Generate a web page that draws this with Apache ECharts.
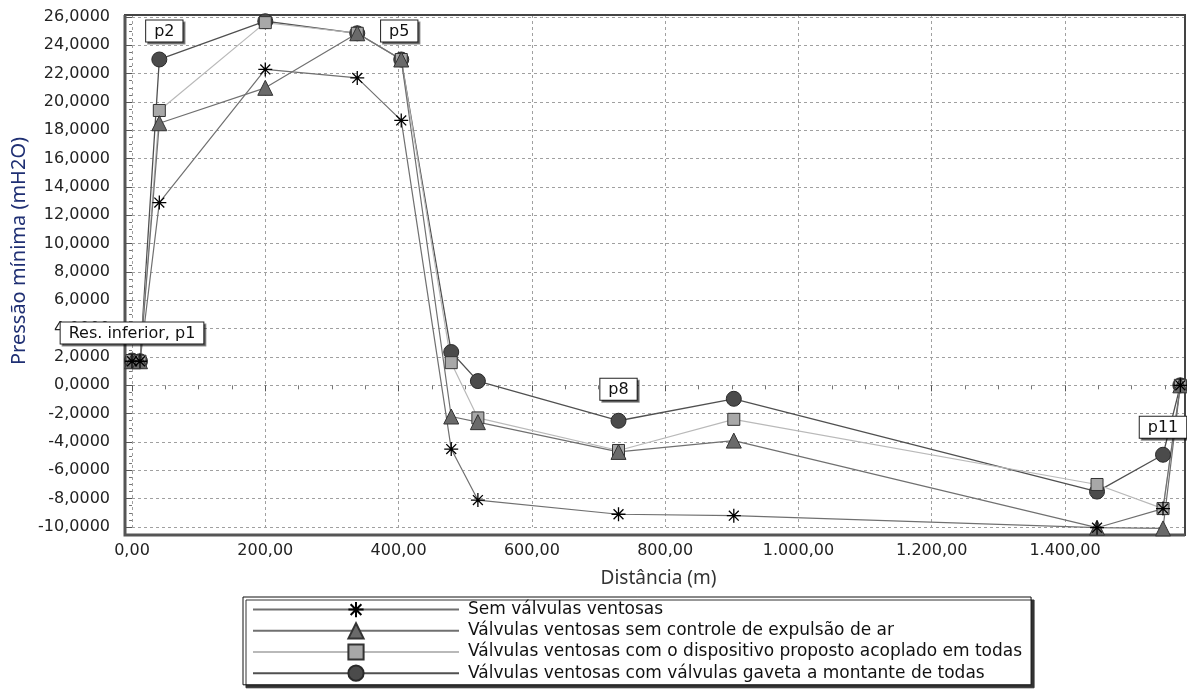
<!DOCTYPE html>
<html>
<head>
<meta charset="utf-8">
<script src="https://cdn.jsdelivr.net/npm/echarts@6/dist/echarts.min.js"></script>
<style>
  html, body { margin: 0; padding: 0; background: #fff; }
  #chart { width: 1187px; height: 689px; }
</style>
</head>
<body>
<div id="chart"></div>
<script>
// Distância ao longo da adutora (m)
const distancias = [0, 12, 41, 200, 338, 404, 479, 519, 730, 903, 1448, 1547, 1573];

// Pressão mínima (mH2O) para cada cenário
const semVentosas = [1.7, 1.7, 12.9, 22.3, 21.7, 18.7, -4.5, -8.1, -9.1, -9.2, -10.05, -8.7, 0.0];
const semControle = [1.7, 1.7, 18.5, 21.0, 24.85, 23.0, -2.2, -2.6, -4.7, -3.9, -10.05, -10.1, 0.0];
const comDispositivo = [1.75, 1.7, 19.4, 25.6, 24.85, 23.0, 1.6, -2.3, -4.6, -2.4, -7.0, -8.7, 0.0];
const comGaveta = [1.75, 1.7, 23.0, 25.7, 24.85, 23.0, 2.35, 0.3, -2.5, -0.95, -7.5, -4.9, 0.0];

const nomesSeries = [
  'Sem válvulas ventosas',
  'Válvulas ventosas sem controle de expulsão de ar',
  'Válvulas ventosas com o dispositivo proposto acoplado em todas',
  'Válvulas ventosas com válvulas gaveta a montante de todas'
];

// Nós identificados no perfil
const nosRotulos = ['Res. inferior, p1', 'p2', 'p5', 'p8', 'p11'];
const nosIndices = [0, 2, 5, 8, 11];

const fmtPressao = v => v.toFixed(4).replace('.', ',');
const fmtDistancia = v => {
  const partes = v.toFixed(2).split('.');
  partes[0] = partes[0].replace(/\B(?=(\d{3})+(?!\d))/g, '.');
  return partes.join(',');
};

const pares = vals => distancias.map((d, i) => [d, vals[i]]);

// Caixas de rótulo dos nós: deslocamentos relativos ao marcador
const ajusteRotulo = {
  0: { distance: 9, offset: [0, 0] },
  2: { distance: 10, offset: [5, 0] },
  5: { distance: 10, offset: [-2, 0] },
  8: { distance: 13, offset: [0, 0] },
  11: { distance: 9, offset: [0, 0] }
};

const estiloCaixa = {
  show: true,
  position: 'top',
  color: '#111',
  fontFamily: 'DejaVu Sans',
  fontSize: 16,
  backgroundColor: '#fff',
  borderColor: '#222',
  borderWidth: 1,
  padding: [3, 8, 2, 8],
  shadowColor: 'rgba(0,0,0,0.45)',
  shadowOffsetX: 2,
  shadowOffsetY: 2,
  shadowBlur: 0
};

const dadosGaveta = pares(comGaveta).map((p, i) => {
  const k = nosIndices.indexOf(i);
  if (k < 0) return p;
  return {
    value: p,
    label: Object.assign({}, estiloCaixa, ajusteRotulo[i], { formatter: nosRotulos[k] })
  };
});

const asterisco = 'path://M0,-10L0,10M-10,0L10,0M-7.07,-7.07L7.07,7.07M-7.07,7.07L7.07,-7.07';

const chart = echarts.init(document.getElementById('chart'), null, { renderer: 'canvas' });

const eixoTexto = { fontFamily: 'DejaVu Sans', fontSize: 16, color: '#222' };

chart.setOption({
  animation: false,
  backgroundColor: '#fff',
  grid: { left: 132, right: 2, top: 15, bottom: 162, containLabel: false },
  xAxis: {
    type: 'value',
    min: 0,
    max: 1580,
    interval: 200,
    offset: 8,
    axisLine: { show: false },
    axisTick: { show: true, length: 6, lineStyle: { color: '#555' } },
    minorTick: { show: true, splitNumber: 4, length: 4, lineStyle: { color: '#777' } },
    axisLabel: Object.assign({ margin: 8, formatter: fmtDistancia, showMaxLabel: false }, eixoTexto),
    splitLine: { show: true, lineStyle: { color: '#a0a0a0', type: [3, 3], width: 1 } },
    name: 'Distância (m)',
    nameLocation: 'middle',
    nameGap: 34,
    nameTextStyle: { fontFamily: 'Noto Sans', fontSize: 19, color: '#333' }
  },
  yAxis: {
    type: 'value',
    min: -10,
    max: 26.14,
    interval: 2,
    offset: 8,
    axisLine: { show: false },
    axisTick: { show: true, length: 6, lineStyle: { color: '#555' } },
    minorTick: { show: true, splitNumber: 4, length: 3, lineStyle: { color: '#777' } },
    axisLabel: Object.assign({ margin: 14, formatter: fmtPressao, showMaxLabel: false }, eixoTexto),
    splitLine: { show: true, lineStyle: { color: '#a0a0a0', type: [3, 3], width: 1 } }
  },
  graphic: [
    {
      type: 'rect',
      shape: { x: 125, y: 15, width: 1060, height: 520 },
      style: { fill: 'none', stroke: '#444', lineWidth: 2 },
      z: 1
    },
    {
      type: 'polyline',
      shape: { points: [[125, 15], [125, 535], [1185, 535]] },
      style: { fill: 'none', stroke: '#555', lineWidth: 3 },
      z: 1
    },
    {
      type: 'text',
      x: 19,
      y: 251,
      rotation: Math.PI / 2,
      style: {
        text: 'Pressão mínima (mH2O)',
        fontFamily: 'Noto Sans',
        fontSize: 20,
        fill: '#1f2f73',
        align: 'center',
        verticalAlign: 'middle'
      }
    }
  ],
  legend: {
    orient: 'vertical',
    left: 243,
    top: 597,
    align: 'left',
    data: nomesSeries,
    itemWidth: 206,
    itemHeight: 19,
    itemGap: 4,
    padding: [4, 9, 3, 9],
    backgroundColor: '#fff',
    borderColor: '#111',
    borderWidth: 1,
    shadowColor: '#333',
    shadowOffsetX: 3,
    shadowOffsetY: 3,
    shadowBlur: 0,
    selectedMode: false,
    textStyle: { fontFamily: 'DejaVu Sans', fontSize: 17, color: '#111', padding: [0, 0, 0, 4] }
  },
  series: [
    {
      name: nomesSeries[3],
      type: 'line',
      data: dadosGaveta,
      symbol: 'circle',
      symbolSize: 15,
      clip: false,
      z: 3,
      lineStyle: { color: '#505050', width: 1.3 },
      itemStyle: { color: '#4b4b4b', borderColor: '#2a2a2a', borderWidth: 1 },
      emphasis: { disabled: true }
    },
    {
      name: nomesSeries[2],
      type: 'line',
      data: pares(comDispositivo),
      symbol: 'rect',
      symbolSize: 12,
      clip: false,
      z: 3,
      lineStyle: { color: '#b9b9b9', width: 1.2 },
      itemStyle: { color: '#a8a8a8', borderColor: '#333', borderWidth: 1 },
      emphasis: { disabled: true }
    },
    {
      name: nomesSeries[1],
      type: 'line',
      data: pares(semControle),
      symbol: 'triangle',
      symbolSize: 15,
      clip: false,
      z: 3,
      lineStyle: { color: '#707070', width: 1.2 },
      itemStyle: { color: '#6a6a6a', borderColor: '#333', borderWidth: 1 },
      emphasis: { disabled: true }
    },
    {
      name: nomesSeries[0],
      type: 'line',
      data: pares(semVentosas),
      symbol: asterisco,
      symbolSize: 14,
      clip: false,
      z: 3,
      lineStyle: { color: '#707070', width: 1.2 },
      itemStyle: { color: '#000', borderColor: '#000', borderWidth: 1.3 },
      emphasis: { disabled: true }
    }
  ]
});
</script>
</body>
</html>
